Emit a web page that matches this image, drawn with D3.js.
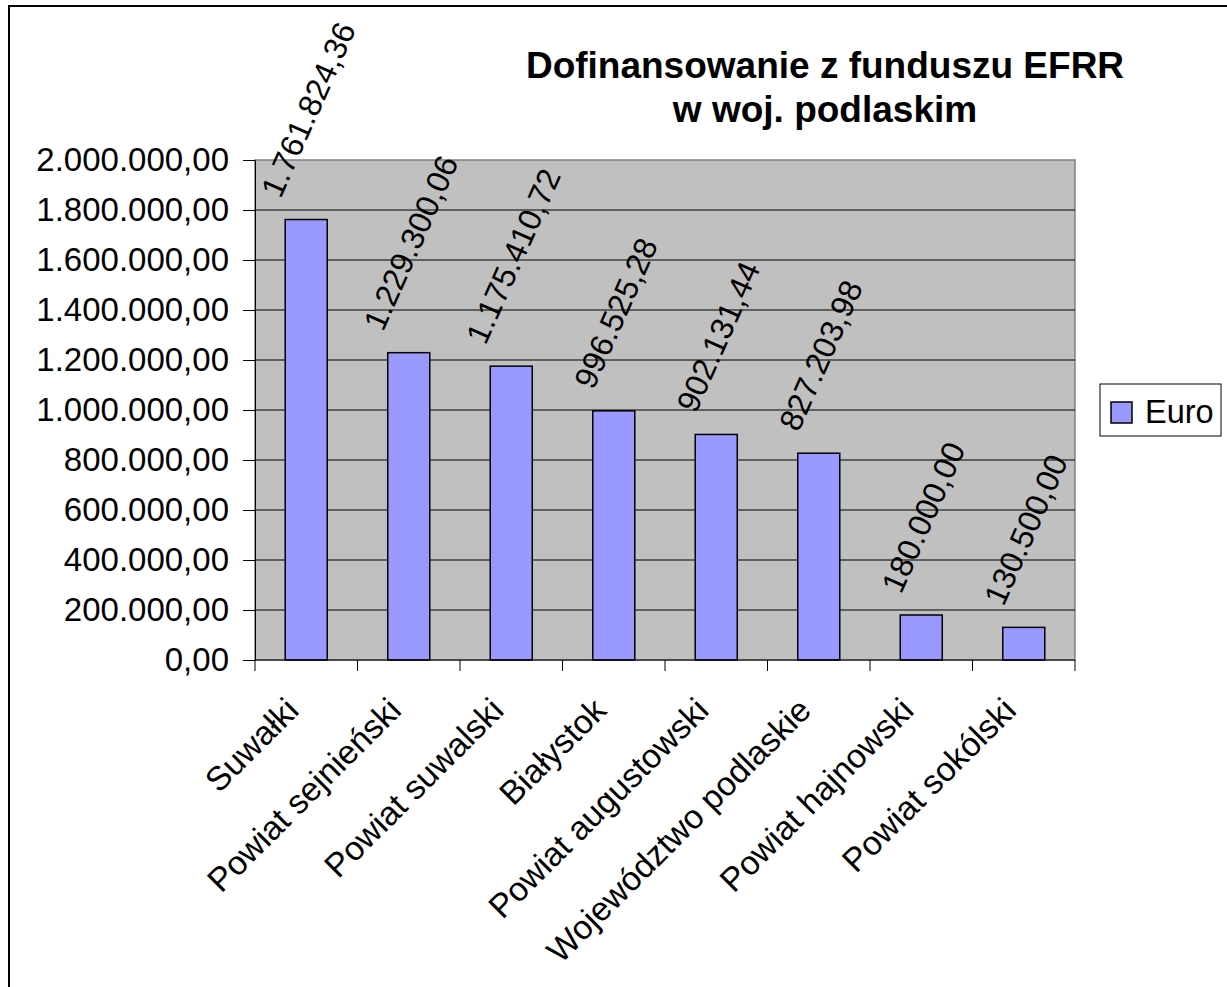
<!DOCTYPE html>
<html><head><meta charset="utf-8">
<script src="https://cdn.jsdelivr.net/npm/d3@7"></script>
<style>
html,body{margin:0;padding:0;background:#fff;}
text{font-family:"Liberation Sans",Arial,sans-serif;fill:#000;}
</style></head>
<body>
<svg id="chart" width="1227" height="987"></svg>
<script>
const categories = ["Suwałki","Powiat sejnieński","Powiat suwalski","Białystok","Powiat augustowski","Województwo podlaskie","Powiat hajnowski","Powiat sokólski"];
const values = [1761824.36,1229300.06,1175410.72,996525.28,902131.44,827203.98,180000.00,130500.00];
const yTicks = [0,200000,400000,600000,800000,1000000,1200000,1400000,1600000,1800000,2000000];
const seriesName = "Euro";
const titleLines = ["Dofinansowanie z funduszu EFRR","w woj. podlaskim"];

const loc = d3.formatLocale({decimal:",", thousands:".", grouping:[3], currency:["",""]});
const fmt = loc.format(",.2f");

const svg = d3.select("#chart");
const L = 255, R = 1075, T = 160, B = 660;

// outer border
svg.append("rect").attr("x",9).attr("y",6).attr("width",1240).attr("height",1000)
  .attr("fill","#fff").attr("stroke","#000").attr("stroke-width",2);

const x = d3.scaleBand().domain(categories).range([L,R]).paddingInner(0.59).paddingOuter(0.295);
const xb = d3.scaleBand().domain(categories).range([L,R]);
const y = d3.scaleLinear().domain([0,2000000]).range([B,T]);

// plot area
svg.append("rect").attr("x",L).attr("y",T).attr("width",R-L).attr("height",B-T)
  .attr("fill","#C0C0C0").attr("stroke","#808080").attr("stroke-width",1.5);

// gridlines
svg.append("g").selectAll("line").data(yTicks.filter(d=>d>0 && d<2000000)).join("line")
  .attr("x1",L).attr("x2",R).attr("y1",d=>y(d)).attr("y2",d=>y(d))
  .attr("stroke","#000").attr("stroke-width",1);

// y axis
const yAxis = d3.axisLeft(y).tickValues(yTicks).tickFormat(fmt).tickSizeOuter(0).tickSizeInner(12).tickPadding(14);
const gy = svg.append("g").attr("transform",`translate(${L},0)`).call(yAxis);
gy.select(".domain").attr("stroke","#000");
gy.selectAll(".tick line").attr("stroke","#000");
gy.selectAll("text").attr("font-size",33).attr("font-family","Liberation Sans, Arial, sans-serif").attr("fill","#000");

// bars
svg.append("g").selectAll("rect").data(values).join("rect")
  .attr("x",(d,i)=>x(categories[i])).attr("width",x.bandwidth())
  .attr("y",d=>y(d)).attr("height",d=>B-y(d))
  .attr("fill","#9999FF").attr("stroke","#000").attr("stroke-width",1.5);

// x axis line and ticks at band boundaries
svg.append("line").attr("x1",L).attr("x2",R).attr("y1",B).attr("y2",B).attr("stroke","#000").attr("stroke-width",1);
const bounds = categories.map(c=>xb(c)).concat([R]);
svg.append("g").selectAll("line").data(bounds).join("line")
  .attr("x1",d=>d).attr("x2",d=>d).attr("y1",B).attr("y2",B+11).attr("stroke","#000");

// category labels
svg.append("g").selectAll("text").data(categories).join("text")
  .attr("transform",d=>`translate(${xb(d)+xb.bandwidth()/2-14},704) rotate(-45)`)
  .attr("text-anchor","end").attr("dy","0.35em").attr("font-size",33.5)
  .text(d=>d);

// data labels
const ang = 66, rad = ang*Math.PI/180;
const dl = svg.append("g").selectAll("text").data(values).join("text")
  .attr("text-anchor","middle").attr("dy","0.35em").attr("font-size",32)
  .text(d=>fmt(d));
dl.each(function(d,i){
  const len = this.getComputedTextLength();
  const cap = 0.716*32;
  const h = len*Math.sin(rad) + cap*Math.cos(rad);
  const cx = xb(categories[i]) + xb.bandwidth()/2 + 2;
  const cy = y(d) - 20 - h/2;
  d3.select(this).attr("transform",`translate(${cx},${cy}) rotate(${-ang})`);
});

// title
svg.append("g").selectAll("text").data(titleLines).join("text")
  .attr("x",825).attr("y",(d,i)=>78+i*44).attr("text-anchor","middle")
  .attr("font-size",37).attr("font-weight","bold").text(d=>d);

// legend
const lg = svg.append("g");
lg.append("rect").attr("x",1100).attr("y",384).attr("width",121).attr("height",52)
  .attr("fill","#fff").attr("stroke","#000").attr("stroke-width",1);
lg.append("rect").attr("x",1111).attr("y",402).attr("width",21).attr("height",21)
  .attr("fill","#9999FF").attr("stroke","#000").attr("stroke-width",1.5);
lg.append("text").attr("x",1145).attr("y",423).attr("font-size",32.5).text(seriesName);
</script>
</body></html>
